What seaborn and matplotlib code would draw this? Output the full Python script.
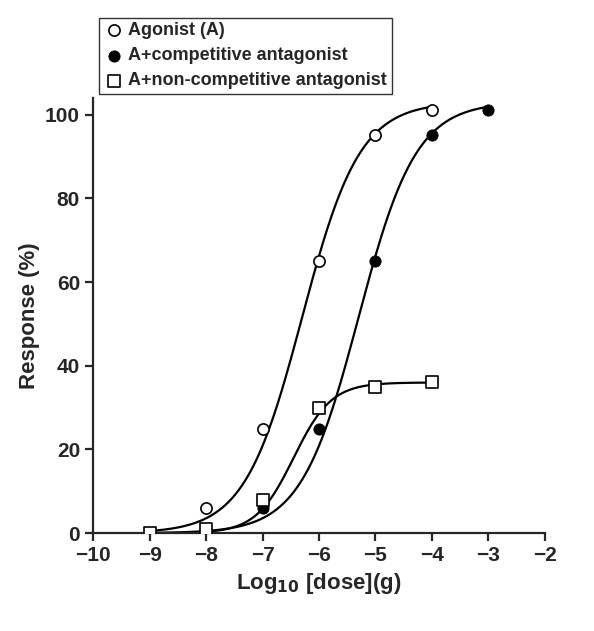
import numpy as np
import matplotlib
matplotlib.use("Agg")
import matplotlib.pyplot as plt
import seaborn as sns

sns.set_style("ticks")
plt.rcParams['font.family'] = ['Liberation Sans', 'DejaVu Sans']
plt.rcParams['font.weight'] = 'bold'

dose_a = [-9, -8, -7, -6, -5, -4]
resp_a = [0, 6, 25, 65, 95, 101]
dose_c = [-9, -8, -7, -6, -5, -4, -3]
resp_c = [0, 0.3, 6, 25, 65, 95, 101]
dose_n = [-9, -8, -7, -6, -5, -4]
resp_n = [0, 1, 8, 30, 35, 36]

# fitted Hill-curve parameters (top, logEC50, slope, x range)
fits = [(103, -6.3, 0.85, -9, -4), (103, -5.3, 0.85, -9, -3), (36, -6.45, 1.3, -9, -4)]

fig = plt.figure(figsize=(5.94, 6.31), dpi=100)
ax = fig.add_axes([0.157, 0.155, 0.76, 0.69])
for top, c, n, x0, x1 in fits:
    xs = np.linspace(x0, x1, 200)
    ax.plot(xs, top / (1 + 10 ** (n * (c - xs))), color='black', lw=1.6)

sns.scatterplot(x=dose_a, y=resp_a, ax=ax, marker='o', s=65, facecolor='white', edgecolor='black', linewidth=1.2, label='Agonist (A)', zorder=3)
sns.scatterplot(x=dose_c, y=resp_c, ax=ax, marker='o', s=65, color='black', edgecolor='black', label='A+competitive antagonist', zorder=3)
sns.scatterplot(x=dose_n, y=resp_n, ax=ax, marker='s', s=65, facecolor='white', edgecolor='black', linewidth=1.2, label='A+non-competitive antagonist', zorder=3)

ax.set_xlim(-10, -2)
ax.set_ylim(0, 104)
ax.set_xticks(range(-10, -1))
ax.set_xticklabels([f'\u2212{abs(v)}' for v in range(-10, -1)])
ax.set_yticks([0, 20, 40, 60, 80, 100])
ax.tick_params(labelsize=15, width=1.6, length=6)
for lab in ax.get_xticklabels() + ax.get_yticklabels():
    lab.set_fontweight('bold')
for s in ['left', 'bottom']:
    ax.spines[s].set_linewidth(1.6)
sns.despine(ax=ax)
ax.set_xlabel('Log$_{10}$ [dose](g)', fontsize=16, fontweight='bold')
ax.set_ylabel('Response (%)', fontsize=16, fontweight='bold')

ax.legend(loc='upper left', bbox_to_anchor=(0.166, 0.972), bbox_transform=fig.transFigure,
          frameon=True, fancybox=False, edgecolor='black', handletextpad=0.2, handlelength=1.2,
          borderaxespad=0, borderpad=0.25, labelspacing=0.45, prop={'weight': 'bold', 'size': 13})
fig.savefig('out.png', dpi=100, facecolor='white')
